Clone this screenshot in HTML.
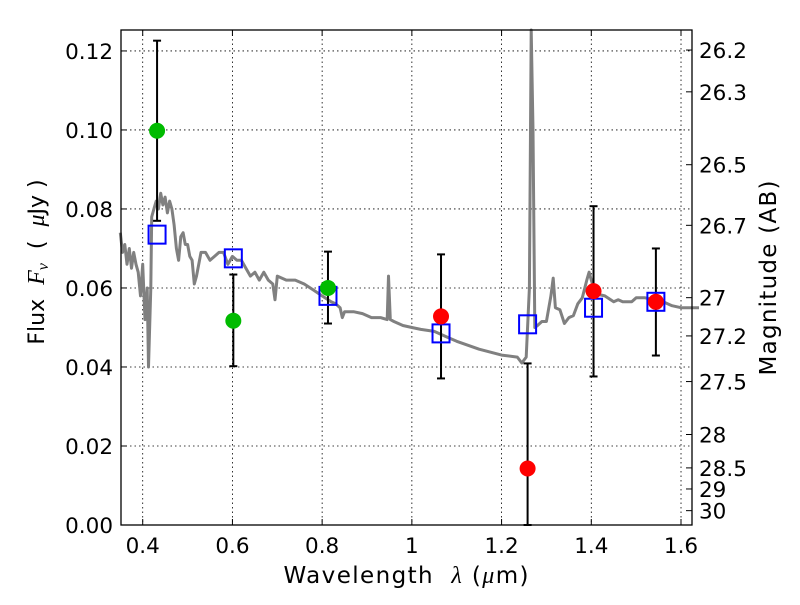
<!DOCTYPE html>
<html><head><meta charset="utf-8"><style>
body{margin:0;background:#fff;}
svg text{font-family:"DejaVu Sans","Liberation Sans",sans-serif;fill:#000;}
</style></head><body>
<svg id="chart" width="800" height="600" xmlns="http://www.w3.org/2000/svg">
<rect width="800" height="600" fill="#fff"/>
<g id="grid"></g>
<g id="spec"></g>
<g id="marks"></g>
<rect x="121" y="30" width="571" height="495" fill="none" stroke="#000" stroke-width="1.3"/>
<g id="axes"></g>
<text x="406" y="583" font-size="23" text-anchor="middle" textLength="245" lengthAdjust="spacing" xml:space="preserve">Wavelength  <tspan font-style="italic" font-family="Liberation Serif" font-size="24">λ</tspan> (<tspan font-style="italic" font-family="Liberation Serif" font-size="24">μ</tspan>m)</text>
<text transform="translate(44,262) rotate(-90)" font-size="22" text-anchor="middle" xml:space="preserve">Flux  <tspan font-style="italic" font-family="Liberation Serif" font-size="24">F</tspan><tspan font-style="italic" font-family="Liberation Serif" font-size="16" dy="4">ν</tspan><tspan dy="-4">  (  </tspan><tspan font-style="italic" font-family="Liberation Serif" font-size="24">μ</tspan>Jy )</text>
<text transform="translate(776,278) rotate(-90)" font-size="23" text-anchor="middle" textLength="195" lengthAdjust="spacing">Magnitude (AB)</text>
</svg>
<script>
const xTicks=[0.4,0.6,0.8,1.0,1.2,1.4,1.6];
const xTickLabels=["0.4","0.6","0.8","1","1.2","1.4","1.6"];
const yTicks=[0,0.02,0.04,0.06,0.08,0.10,0.12];
const yTickLabels=["0.00","0.02","0.04","0.06","0.08","0.10","0.12"];
const magTicks=[26.2,26.3,26.5,26.7,27,27.2,27.5,28,28.5,29,30];
const magLabels=["26.2","26.3","26.5","26.7","27","27.2","27.5","28","28.5","29","30"];
const specLam=[0.35,0.355,0.36,0.365,0.37,0.375,0.38,0.385,0.39,0.395,0.40,0.405,0.41,0.413,0.418,0.42,0.425,0.43,0.435,0.44,0.445,0.45,0.455,0.46,0.465,0.47,0.475,0.48,0.485,0.49,0.495,0.50,0.505,0.51,0.515,0.52,0.53,0.54,0.55,0.56,0.57,0.58,0.59,0.60,0.61,0.62,0.63,0.64,0.65,0.66,0.67,0.68,0.69,0.695,0.70,0.72,0.74,0.76,0.78,0.80,0.82,0.83,0.84,0.845,0.85,0.87,0.89,0.91,0.93,0.945,0.948,0.952,0.96,0.98,1.0,1.02,1.05,1.08,1.1,1.15,1.20,1.235,1.245,1.255,1.262,1.266,1.27,1.274,1.28,1.29,1.30,1.31,1.315,1.32,1.33,1.34,1.35,1.36,1.37,1.38,1.39,1.395,1.40,1.41,1.43,1.45,1.46,1.47,1.49,1.50,1.52,1.54,1.56,1.58,1.60,1.62,1.64];
const specFlux=[0.074,0.069,0.071,0.066,0.070,0.065,0.069,0.066,0.064,0.058,0.066,0.052,0.060,0.040,0.060,0.078,0.080,0.082,0.080,0.084,0.081,0.083,0.079,0.082,0.080,0.076,0.070,0.067,0.073,0.074,0.071,0.071,0.068,0.067,0.061,0.063,0.069,0.069,0.067,0.068,0.069,0.069,0.066,0.068,0.067,0.067,0.065,0.063,0.064,0.062,0.064,0.062,0.061,0.057,0.063,0.062,0.062,0.061,0.0595,0.058,0.0565,0.056,0.055,0.0525,0.054,0.054,0.0535,0.0525,0.0525,0.052,0.063,0.052,0.0515,0.0505,0.050,0.0495,0.049,0.0475,0.0465,0.0445,0.043,0.0425,0.041,0.0425,0.06,0.128,0.100,0.05,0.0505,0.0515,0.0515,0.058,0.0625,0.055,0.0545,0.051,0.0525,0.053,0.056,0.0575,0.062,0.064,0.062,0.0585,0.058,0.0565,0.057,0.0565,0.0565,0.0575,0.0575,0.057,0.0565,0.0555,0.055,0.055,0.055];
const obsLam=[0.432,0.602,0.813,1.065,1.258,1.405,1.544];
const obsFlux=[0.0998,0.0517,0.0600,0.0528,0.0143,0.0592,0.0565];
const errLo=[0.0770,0.0402,0.0510,0.0371,0.0,0.0376,0.0429];
const errHi=[0.1226,0.0634,0.0692,0.0685,0.0409,0.0807,0.0700];
const obsColor=["#00bb00","#00bb00","#00bb00","#ff0000","#ff0000","#ff0000","#ff0000"];
const modelFlux=[0.0735,0.0675,0.0580,0.0485,0.0508,0.0550,0.0565];

const NS="http://www.w3.org/2000/svg";
const X0=121,X1=692,Y0=525,Y1=30,LMIN=0.3516,LMAX=1.6245,FMIN=0,FMAX=0.1253;
function xs(l){return X0+(l-LMIN)/(LMAX-LMIN)*(X1-X0);}
function ys(f){return Y0-(f-FMIN)/(FMAX-FMIN)*(Y0-Y1);}
function mk(tag,attrs,parent){const e=document.createElementNS(NS,tag);for(const k in attrs)e.setAttribute(k,attrs[k]);parent.appendChild(e);return e;}
const grid=document.getElementById('grid'),axes=document.getElementById('axes'),spec=document.getElementById('spec'),marks=document.getElementById('marks');
xTicks.forEach((t,i)=>{const x=xs(t);
 let g=mk('line',{x1:x,x2:x,y1:Y1,y2:Y0,stroke:'#000','stroke-width':0.8,'stroke-dasharray':'1.5,3'},grid);
 
 mk('line',{x1:x,x2:x,y1:Y0,y2:Y0-6,stroke:'#000'},axes);
 mk('line',{x1:x,x2:x,y1:Y1,y2:Y1+6,stroke:'#000'},axes);
 let tx=mk('text',{x:x,y:Y0+28,'font-size':21.5,'text-anchor':'middle'},axes);tx.textContent=xTickLabels[i];
 });
yTicks.forEach((t,i)=>{const y=ys(t);
 let g=mk('line',{x1:X0,x2:X1,y1:y,y2:y,stroke:'#000','stroke-width':0.8,'stroke-dasharray':'1.5,3'},grid);
 
 mk('line',{x1:X0,x2:X0+6,y1:y,y2:y,stroke:'#000'},axes);
 let tx=mk('text',{x:X0-8,y:y+8,'font-size':21.5,'text-anchor':'end'},axes);tx.textContent=yTickLabels[i];
 });
magTicks.forEach((m,i)=>{const f=Math.pow(10,(23.9-m)/2.5);const y=ys(f);
 mk('line',{x1:X1,x2:X1-6,y1:y,y2:y,stroke:'#000'},axes);
 let tx=mk('text',{x:X1+7,y:y+8,'font-size':21.5},axes);tx.textContent=magLabels[i];
 });
let d='';specLam.forEach((l,i)=>{if(l>LMAX+0.02)return;d+=(i?'L':'M')+xs(l).toFixed(1)+','+Math.max(Y1,ys(specFlux[i])).toFixed(1);});
let p=mk('path',{d:d,fill:'none',stroke:'#808080','stroke-width':3,'stroke-linejoin':'round'},spec);

mk('clipPath',{id:'clip'},document.getElementById('chart'));
obsLam.forEach((l,i)=>{const x=xs(l);
 let e=mk('g',{},marks);
 
 mk('line',{x1:x,x2:x,y1:ys(errLo[i]),y2:ys(errHi[i]),stroke:'#000','stroke-width':2},e);
 mk('line',{x1:x-4,x2:x+4,y1:ys(errHi[i]),y2:ys(errHi[i]),stroke:'#000','stroke-width':2},e);
 mk('line',{x1:x-4,x2:x+4,y1:ys(errLo[i]),y2:ys(errLo[i]),stroke:'#000','stroke-width':2},e);
 let s=mk('rect',{x:x-8.5,y:ys(modelFlux[i])-9,width:17,height:18,fill:'none',stroke:'#0000ff','stroke-width':2},marks);
 
 let c=mk('circle',{cx:x,cy:ys(obsFlux[i]),r:8,fill:obsColor[i]},marks);
 });
</script>
</body></html>
